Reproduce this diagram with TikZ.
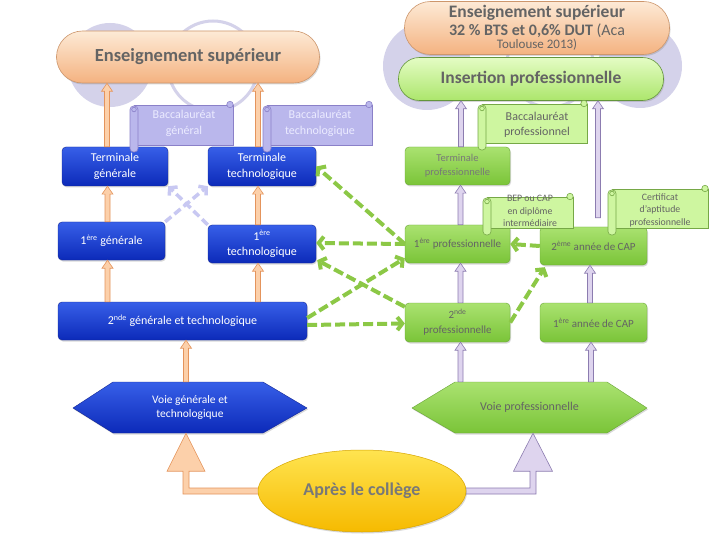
\documentclass[tikz,border=0pt]{standalone}
\usepackage{fontspec}
\setmainfont{Carlito}
\usetikzlibrary{calc,shadows,arrows.meta,shapes.geometric}
\definecolor{lav}{RGB}{212,210,234}
\definecolor{blueT}{RGB}{55,95,232}
\definecolor{blueB}{RGB}{12,42,185}
\definecolor{blueD}{RGB}{20,40,150}
\definecolor{grT}{RGB}{170,226,112}
\definecolor{grB}{RGB}{122,196,56}
\definecolor{grD}{RGB}{105,165,55}
\definecolor{orT}{RGB}{253,234,214}
\definecolor{orB}{RGB}{244,178,128}
\definecolor{orD}{RGB}{205,150,108}
\definecolor{pgT}{RGB}{228,252,196}
\definecolor{pgB}{RGB}{172,230,108}
\definecolor{pgD}{RGB}{100,150,60}
\definecolor{oaF}{RGB}{252,208,170}
\definecolor{oaD}{RGB}{228,148,92}
\definecolor{paF}{RGB}{222,212,238}
\definecolor{paD}{RGB}{140,124,176}
\definecolor{dashG}{RGB}{140,200,70}
\definecolor{dashL}{RGB}{200,200,242}
\definecolor{scL}{RGB}{186,183,236}
\definecolor{scLD}{RGB}{138,128,200}
\definecolor{scG}{RGB}{206,246,160}
\definecolor{scGD}{RGB}{118,168,70}
\definecolor{txG}{RGB}{100,100,100}
\definecolor{txL}{RGB}{120,120,120}
\definecolor{yelT}{RGB}{255,228,80}
\definecolor{yelB}{RGB}{246,186,0}
\definecolor{yelD}{RGB}{215,165,0}
\newcommand{\uparr}[3]{%
  \path[#1] let \p1=(#2), \p2=(#3) in
    (\x1-2.5pt,\y1) -- (\x1-2.5pt,\y2-8pt) -- (\x1-5.5pt,\y2-8pt) -- (\x1,\y2)
    -- (\x1+5.5pt,\y2-8pt) -- (\x1+2.5pt,\y2-8pt) -- (\x1+2.5pt,\y1) -- cycle;}
\newcommand{\scrollshape}[6]{%
  \begin{scope}[fill=#5, draw=#6, line width=0.6pt]
    \filldraw (#1+4,#2+4) rectangle (#3,#4);
    \filldraw (#3-3,#2+3.5) circle[radius=3.2pt];
    \filldraw[rounded corners=3.5pt] (#1,#2+5) rectangle (#1+8,#4+7);
    \filldraw (#1+4,#2+8.5) circle[radius=2.3pt];
  \end{scope}}
\tikzset{
  shad/.style={drop shadow={shadow xshift=1pt,shadow yshift=-1.5pt,opacity=0.3}},
  bbox/.style={shad, rounded corners=4pt, top color=blueT, bottom color=blueB, draw=blueD,
    line width=0.4pt, text=white, font=\fontsize{12}{15.5}\selectfont, align=center, inner sep=1pt},
  gbox/.style={shad, rounded corners=4pt, top color=grT, bottom color=grB, draw=grD,
    line width=0.4pt, text=txG, font=\fontsize{11}{15}\selectfont, align=center, inner sep=1pt},
  pill/.style={shad, line width=0.6pt, align=center, inner sep=1pt},
  oarr/.style={fill=oaF, draw=oaD, line width=0.6pt},
  parr/.style={fill=paF, draw=paD, line width=0.6pt},
  gdash/.style={draw=dashG, line width=4pt, dash pattern=on 10pt off 4pt,
    -{Straight Barb[length=5pt,width=13pt]}},
  ldash/.style={draw=dashL, line width=3.5pt, dash pattern=on 8pt off 4pt,
    -{Straight Barb[length=5pt,width=12pt]}},
  sctxtL/.style={text=white!92!blue, font=\fontsize{12}{15.5}\selectfont, align=center, inner sep=0pt},
  sctxtG/.style={text=txG, font=\fontsize{12}{15.5}\selectfont, align=center, inner sep=0pt},
  sctxtS/.style={text=txG, font=\fontsize{9.8}{12.5}\selectfont, align=center, inner sep=0pt},
}
\begin{document}
\begin{tikzpicture}[x=1pt,y=-1pt]
\useasboundingbox[fill=white] (0,0) rectangle (720,540);
% background circles
\fill[lav] (110,65) circle[radius=42pt];
\draw[lav, line width=3pt] (213,66) circle[radius=45pt];
\fill[lav] (427,66) circle[radius=44pt];
\draw[lav, line width=3pt] (550,64) circle[radius=43pt];
\fill[lav] (640,66) circle[radius=42pt];
% pills
\node[pill, top color=pgT, bottom color=pgB, draw=pgD, minimum width=265pt, minimum height=43pt,
  rounded corners=21pt, text=txG, font=\fontsize{17.5}{19}\selectfont\bfseries] (pillG) at (531,79) {Insertion professionnelle};
\node[pill, top color=orT, bottom color=orB, draw=orD, minimum width=265pt, minimum height=53pt,
  rounded corners=26pt, text=txG, font=\fontsize{16}{17}\selectfont] (pillR) at (537,28)
  {{\fontsize{17.5}{18}\selectfont\bfseries Enseignement supérieur}\\[1pt]
   {\bfseries 32 \% BTS et 0,6\% DUT \mdseries(Aca}\\[-4.5pt]
   {\fontsize{13}{13}\selectfont Toulouse 2013)}};
\node[pill, top color=orT, bottom color=orB, draw=orD, minimum width=263pt, minimum height=52pt,
  rounded corners=26pt, text=txG, font=\fontsize{18.5}{20}\selectfont\bfseries] (pillL) at (188,57) {Enseignement supérieur};
% boxes (blue)
\node[bbox, minimum width=106pt, minimum height=39pt] (tg) at (115,166.5) {Terminale\\générale};
\node[bbox, minimum width=108pt, minimum height=39pt] (tt) at (262,166.5) {Terminale\\technologique};
\node[bbox, minimum width=107pt, minimum height=38pt] (pg) at (111.5,241) {1\textsuperscript{ère} générale};
\node[bbox, minimum width=108pt, minimum height=38pt] (pt) at (262,244) {1\textsuperscript{ère}\\technologique};
\node[bbox, minimum width=249pt, minimum height=38pt] (sgt) at (182.5,321) {2\textsuperscript{nde} générale et technologique};
% boxes (green)
\node[gbox, minimum width=105pt, minimum height=38pt, text=txL, font=\fontsize{10.5}{14}\selectfont] (tp) at (457.5,166) {Terminale\\professionnelle};
\node[gbox, minimum width=105pt, minimum height=38pt] (pp) at (457.5,244) {1\textsuperscript{ère} professionnelle};
\node[gbox, minimum width=107pt, minimum height=38pt] (cap2) at (593.5,246) {2\textsuperscript{ème} année de CAP};
\node[gbox, minimum width=105pt, minimum height=39pt] (sp) at (457.5,322.5) {2\textsuperscript{nde}\\professionnelle};
\node[gbox, minimum width=107pt, minimum height=39pt] (cap1) at (593.5,322.5) {1\textsuperscript{ère} année de CAP};
% hexagons
\path[shad, top color=blueT, bottom color=blueB, draw=blueD, line width=0.4pt]
  (73,408) -- (113,382) -- (263,382) -- (307,408) -- (263,433) -- (113,433) -- cycle;
\node[text=white, font=\fontsize{11.5}{14.5}\selectfont, align=center, minimum width=234pt, minimum height=51pt, inner sep=0pt] (vgt) at (190,407.5) {Voie générale et\\technologique};
\path[shad, top color=grT, bottom color=grB, draw=grD, line width=0.4pt]
  (412,408) -- (455,382) -- (607,382) -- (647,408) -- (607,433) -- (455,433) -- cycle;
\node[text=txG, font=\fontsize{12}{14}\selectfont, minimum width=235pt, minimum height=51pt, inner sep=0pt] (vp) at (529.5,407.5) {Voie professionnelle};
% hollow arrows (orange)
\uparr{oarr}{$(tg.north)+(-8,0)$}{pillL.south}
\uparr{oarr}{$(tt.north)+(-4,0)$}{pillL.south}
\uparr{oarr}{$(pg.north)+(-4,0)$}{tg.south}
\uparr{oarr}{$(pt.north)+(-4,0)$}{tt.south}
\uparr{oarr}{$(pg.south |- sgt.north)+(-4,0)$}{pg.south}
\uparr{oarr}{$(pt.south |- sgt.north)+(-4,0)$}{pt.south}
\uparr{oarr}{$(sgt.south |- vgt.north)+(3.5,0)$}{sgt.south}
% hollow arrows (purple)
\uparr{parr}{$(tp.north)+(3.5,0)$}{pillG.south}
\uparr{parr}{$(pp.north)+(3,0)$}{tp.south}
\uparr{parr}{$(sp.north)+(3,0)$}{pp.south}
\uparr{parr}{$(cap1.north)+(-3.5,0)$}{cap2.south}
\uparr{parr}{$(cap2.north)+(4.5,-9)$}{pillG.south}
\uparr{parr}{$(sp.south |- vp.north)+(3,0)$}{sp.south}
\uparr{parr}{$(cap1.south |- vp.north)+(-2.5,0)$}{cap1.south}
% scrolls
\scrollshape{130}{101}{233}{145}{scL}{scLD}
\node[sctxtL] (bacg) at (184,123.5) {Baccalauréat\\général};
\scrollshape{263}{101}{372}{145}{scL}{scLD}
\node[sctxtL] (bact) at (320,123.5) {Baccalauréat\\technologique};
\scrollshape{478}{100}{587}{143}{scG}{scGD}
\node[sctxtG] (bacp) at (537,125) {Baccalauréat\\professionnel};
\scrollshape{483}{193}{573}{228}{scG}{scGD}
\node[sctxtS] (bep) at (530,211) {BEP ou CAP\\en diplôme\\intermédiaire};
\scrollshape{608}{185}{708}{228}{scG}{scGD}
\node[sctxtS] (cert) at (660,210) {Certificat\\d'aptitude\\professionnelle};
% lavender dashed arrows
\draw[ldash] (pt.north west) -- (tg.south east);
\draw[ldash] (pg.north east) -- (tt.south west);
% green dashed arrows
\draw[gdash] (pp.west) -- (tt.east);
\draw[gdash] (pp.west) -- ($(pt.east)+(0,-1)$);
\draw[gdash] ($(sp.north west)+(0,4)$) -- ($(pt.south east)+(1,-3)$);
\draw[gdash] ($(sgt.east)+(0,-3)$) -- ($(pp.south west)+(0,-5)$);
\draw[gdash] ($(sgt.east)+(0,4)$) -- ($(sp.west)+(0,1)$);
\draw[gdash] (sp.east) -- ($(cap2.south west)+(5,2)$);
\draw[gdash] (cap2.west) -- (pp.east);
% elbow arrows from the ellipse
\path[fill=oaF, draw=oaD, line width=0.6pt] let \p1=(362,491), \p2=(vgt.south) in
  (\x1,\y1+3pt) -- (\x2-1pt,\y1+3pt) -- (\x2-1pt,\y2-38pt) -- (\x2+15pt,\y2-38pt) -- (\x2-4pt,\y2)
  -- (\x2-23pt,\y2-38pt) -- (\x2-7pt,\y2-38pt) -- (\x2-7pt,\y1-3pt) -- (\x1,\y1-3pt) -- cycle;
\path[fill=paF, draw=paD, line width=0.6pt] let \p1=(362,491), \p2=(vp.south) in
  (\x1,\y1+3pt) -- (\x2+0.5pt,\y1+3pt) -- (\x2+0.5pt,\y2-38pt) -- (\x2-16pt,\y2-38pt) -- (\x2+3.5pt,\y2)
  -- (\x2+23pt,\y2-38pt) -- (\x2+6.5pt,\y2-38pt) -- (\x2+6.5pt,\y1-3pt) -- (\x1,\y1-3pt) -- cycle;
\node[shad, ellipse, minimum width=208pt, minimum height=82pt, top color=yelT, bottom color=yelB,
  draw=yelD, line width=0.5pt, text=txL, font=\fontsize{18}{20}\selectfont\bfseries] (col) at (362,491) {Après le collège};
\end{tikzpicture}
\end{document}
